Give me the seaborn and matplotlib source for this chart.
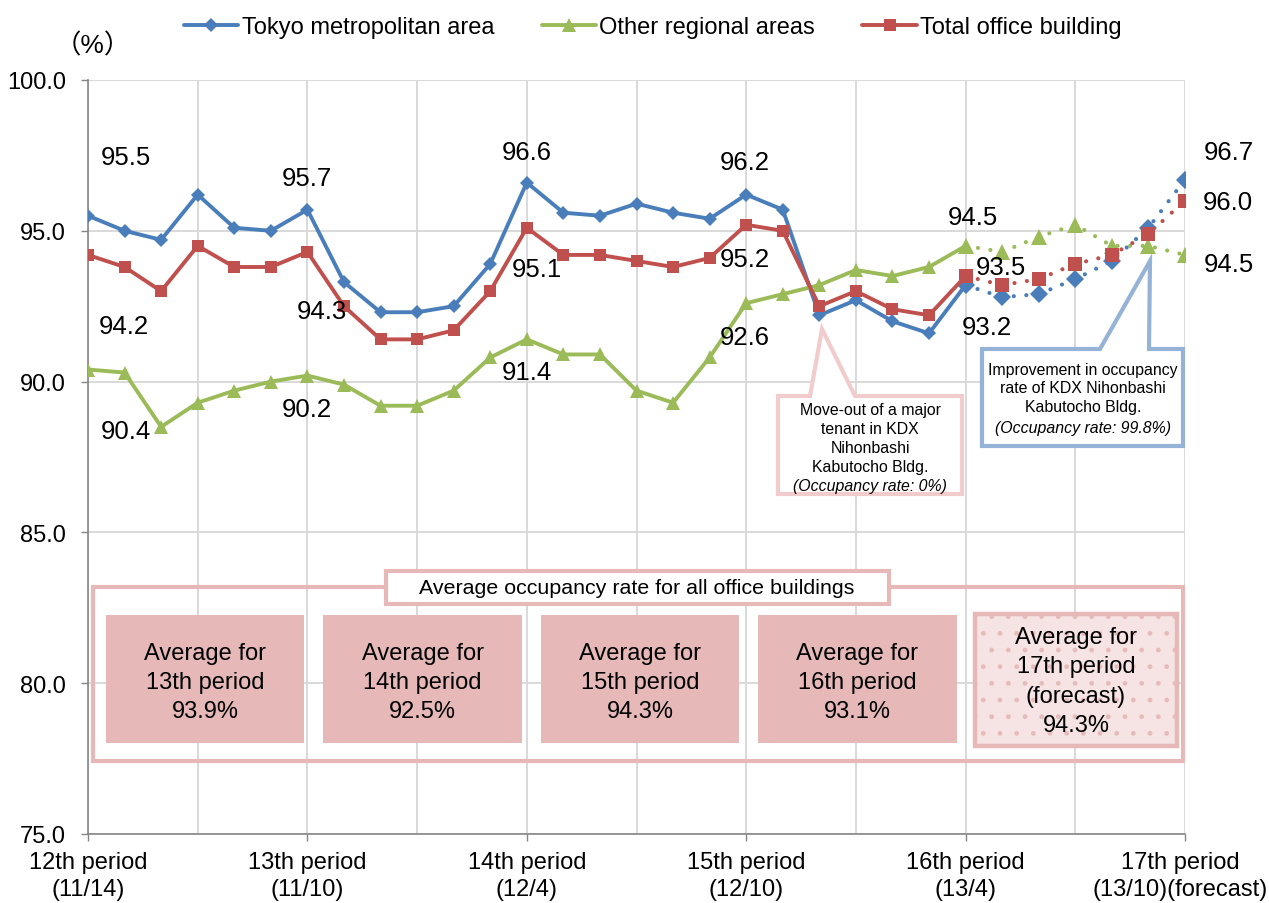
import matplotlib
matplotlib.use("Agg")
import pandas as pd
import matplotlib.pyplot as plt
import seaborn as sns
from matplotlib.patches import Rectangle, Polygon
from matplotlib.lines import Line2D
from matplotlib.transforms import ScaledTranslation

# ---- data (monthly occupancy rate, %) ----
months = list(range(31))
tokyo = [95.5, 95.0, 94.7, 96.2, 95.1, 95.0, 95.7, 93.3, 92.3, 92.3, 92.5, 93.9, 96.6,
         95.6, 95.5, 95.9, 95.6, 95.4, 96.2, 95.7, 92.2, 92.7, 92.0, 91.6, 93.2,
         92.8, 92.9, 93.4, 94.0, 95.1, 96.7]
regional = [90.4, 90.3, 88.5, 89.3, 89.7, 90.0, 90.2, 89.9, 89.2, 89.2, 89.7, 90.8, 91.4,
            90.9, 90.9, 89.7, 89.3, 90.8, 92.6, 92.9, 93.2, 93.7, 93.5, 93.8, 94.5,
            94.3, 94.8, 95.2, 94.5, 94.5, 94.2]
total = [94.2, 93.8, 93.0, 94.5, 93.8, 93.8, 94.3, 92.5, 91.4, 91.4, 91.7, 93.0, 95.1,
         94.2, 94.2, 94.0, 93.8, 94.1, 95.2, 95.0, 92.5, 93.0, 92.4, 92.2, 93.5,
         93.2, 93.4, 93.9, 94.2, 94.9, 96.0]
forecast_start = 24

period_ticks = [0, 6, 12, 18, 24, 30]
period_labels = ["12th period\n(11/14)", "13th period\n(11/10)", "14th period\n(12/4)",
                 "15th period\n(12/10)", "16th period\n(13/4)", "17th period\n(13/10)(forecast)"]

avg_labels = ["Average for\n13th period\n93.9%", "Average for\n14th period\n92.5%",
              "Average for\n15th period\n94.3%", "Average for\n16th period\n93.1%",
              "Average for\n17th period\n(forecast)\n94.3%"]

# value labels: text, month position, y position
value_labels = [("95.5", 1.04, 97.45), ("94.2", 0.98, 91.84), ("90.4", 1.04, 88.36),
                ("95.7", 5.99, 96.75), ("94.3", 6.40, 92.34), ("90.2", 5.99, 89.09),
                ("96.6", 12.0, 97.61), ("95.1", 12.28, 93.73), ("91.4", 12.0, 90.32),
                ("96.2", 17.97, 97.28), ("95.2", 17.97, 94.07), ("92.6", 17.97, 91.48),
                ("94.5", 24.2, 95.46), ("93.5", 24.97, 93.80), ("93.2", 24.59, 91.81),
                ("96.7", 31.2, 97.61), ("96.0", 31.18, 95.95), ("94.5", 31.2, 93.90)]

BLUE, GREEN, RED = "#4a7ebb", "#9bbb59", "#c0504d"
PINK = "#e6b9b8"
W, H = 1269, 904

sns.set_theme(style="white")
plt.rcParams['font.family'] = ['Liberation Sans', 'Noto Sans CJK JP', 'DejaVu Sans']
plt.rcParams['text.color'] = 'black'

fig = plt.figure(figsize=(W / 100, H / 100), dpi=100)
ax = fig.add_axes([88 / W, 1 - 835 / H, (1185 - 88) / W, (835 - 81) / H])


def fxy(px, py):
    # pixel position -> figure fraction
    return px / W, 1 - py / H


def add_rect(x0, y0, x1, y1, **kw):
    r = Rectangle(fxy(x0, y1), (x1 - x0) / W, (y1 - y0) / H,
                  transform=fig.transFigure, clip_on=False, **kw)
    ax.add_patch(r)
    return r


series = [("Tokyo metropolitan area", tokyo, BLUE, "D", 7.5, 3),
          ("Other regional areas", regional, GREEN, "^", 10, 4),
          ("Total office building", total, RED, "s", 9, 5)]

for name, vals, color, marker, ms, z in series:
    df = pd.DataFrame({"month": months, "rate": vals})
    actual = df[df["month"] <= forecast_start]
    fc = df[df["month"] >= forecast_start]
    sns.lineplot(data=actual, x="month", y="rate", ax=ax, color=color, linewidth=2.8,
                 marker=marker, markersize=ms, markeredgecolor=color, markeredgewidth=0,
                 zorder=z)
    sns.lineplot(data=fc, x="month", y="rate", ax=ax, color=color, linewidth=3.0,
                 linestyle=(0, (0.01, 3.0)), dash_capstyle="round",
                 marker=marker, markersize=ms + 1.5, markeredgecolor=color,
                 markeredgewidth=0, zorder=z)

ax.set_xlim(0, 30)
ax.set_ylim(75, 100)
ax.set_xlabel("")
ax.set_ylabel("")
ax.set_xticks(period_ticks)
ax.set_xticklabels(period_labels, fontsize=17, linespacing=1.3)
ax.set_xticks(range(0, 31, 3), minor=True)
ax.set_yticks([75, 80, 85, 90, 95, 100])
ax.set_yticklabels([f"{v:.1f}" for v in [75, 80, 85, 90, 95, 100]], fontsize=17)
ax.tick_params(axis="x", which="major", direction="out", length=5, width=1,
               color="#868686", labelcolor="black", pad=7, bottom=True)
ax.tick_params(axis="x", which="minor", length=0)
ax.tick_params(axis="y", direction="out", length=5, width=1, color="#868686",
               labelcolor="black", pad=11, left=True)
# last label runs to the figure edge; nudge it in slightly
last = ax.get_xticklabels()[-1]
last.set_transform(last.get_transform() + ScaledTranslation(-5 / 100, 0, fig.dpi_scale_trans))

ax.set_axisbelow(True)
ax.grid(which="both", axis="x", color="#d9d9d9", linewidth=1.4)
ax.grid(which="major", axis="y", color="#d9d9d9", linewidth=1.4)
for s in ["top", "right"]:
    ax.spines[s].set_visible(False)
for s in ["left", "bottom"]:
    ax.spines[s].set_color("#868686")
    ax.spines[s].set_linewidth(1.2)

# value labels
for txt, xm, yv in value_labels:
    ax.text(xm, yv, txt, fontsize=18.5, ha="center", va="center", zorder=7, clip_on=False)

# (%) unit
fig.text(*fxy(93, 46), "（%）", fontsize=19, ha="center", va="center")

# average occupancy panel
add_rect(93, 588, 1183, 762, facecolor="none", edgecolor=PINK, linewidth=3, zorder=1)
add_rect(386, 572, 889, 605, facecolor="white", edgecolor=PINK, linewidth=3, zorder=1.3)
fig.text(*fxy(637, 589), "Average occupancy rate for all office buildings",
         fontsize=15.4, ha="center", va="center", zorder=8)

box_lefts = [106, 323, 541, 758]
box_rights = [304, 522, 739, 957]
for lbl, x0, x1 in zip(avg_labels[:4], box_lefts, box_rights):
    add_rect(x0, 616, x1, 744, facecolor=PINK, edgecolor="none", zorder=1.2)
    fig.text(*fxy((x0 + x1) / 2, 683), lbl, fontsize=17, ha="center", va="center",
             linespacing=1.42, zorder=8)

add_rect(975, 615, 1177, 747, facecolor="#f6e3e3", edgecolor="#e6bcbb", hatch=".",
         linewidth=0, zorder=1.2)
add_rect(975, 615, 1177, 747, facecolor="none", edgecolor=PINK, linewidth=3.2, zorder=1.25)
fig.text(*fxy(1076, 682), avg_labels[4], fontsize=17, ha="center", va="center",
         linespacing=1.42, zorder=8)

# callouts
pink_pts = [(778, 397), (810, 397), (822, 330), (855, 397), (962, 397), (962, 495), (778, 495)]
ax.add_patch(Polygon([fxy(*p) for p in pink_pts], closed=True, transform=fig.transFigure,
                     facecolor="white", edgecolor="#f2cccc", linewidth=3, zorder=1.5,
                     clip_on=False, joinstyle="miter"))
fig.text(*fxy(870, 439), "Move-out of a major\ntenant in KDX\nNihonbashi\nKabutocho Bldg.",
         fontsize=11.4, ha="center", va="center", linespacing=1.32, zorder=8)
fig.text(*fxy(870, 487), "(Occupancy rate: 0%)", fontsize=11.4, ha="center", va="center",
         style="italic", zorder=8)

blue_pts = [(982, 350), (1100, 350), (1150, 262), (1149, 350), (1183, 350), (1183, 447), (982, 447)]
ax.add_patch(Polygon([fxy(*p) for p in blue_pts], closed=True, transform=fig.transFigure,
                     facecolor="white", edgecolor="#95b3d7", linewidth=3, zorder=1.5,
                     clip_on=False, joinstyle="miter"))
fig.text(*fxy(1083, 389), "Improvement in occupancy\nrate of KDX Nihonbashi\nKabutocho Bldg.",
         fontsize=11.4, ha="center", va="center", linespacing=1.32, zorder=8)
fig.text(*fxy(1083, 429), "(Occupancy rate: 99.8%)", fontsize=11.4, ha="center",
         va="center", style="italic", zorder=8)

# legend
handles = [Line2D([], [], color=c, linewidth=2.8, marker=m, markersize=ms,
                  markeredgecolor=c, markeredgewidth=0)
           for _, _, c, m, ms, _ in series]
fig.legend(handles, [s[0] for s in series], loc="center", bbox_to_anchor=fxy(653, 28),
           ncol=3, frameon=False, fontsize=17, handlelength=2.3, handletextpad=0.15,
           columnspacing=2.0)

fig.savefig("out.png", dpi=100)
